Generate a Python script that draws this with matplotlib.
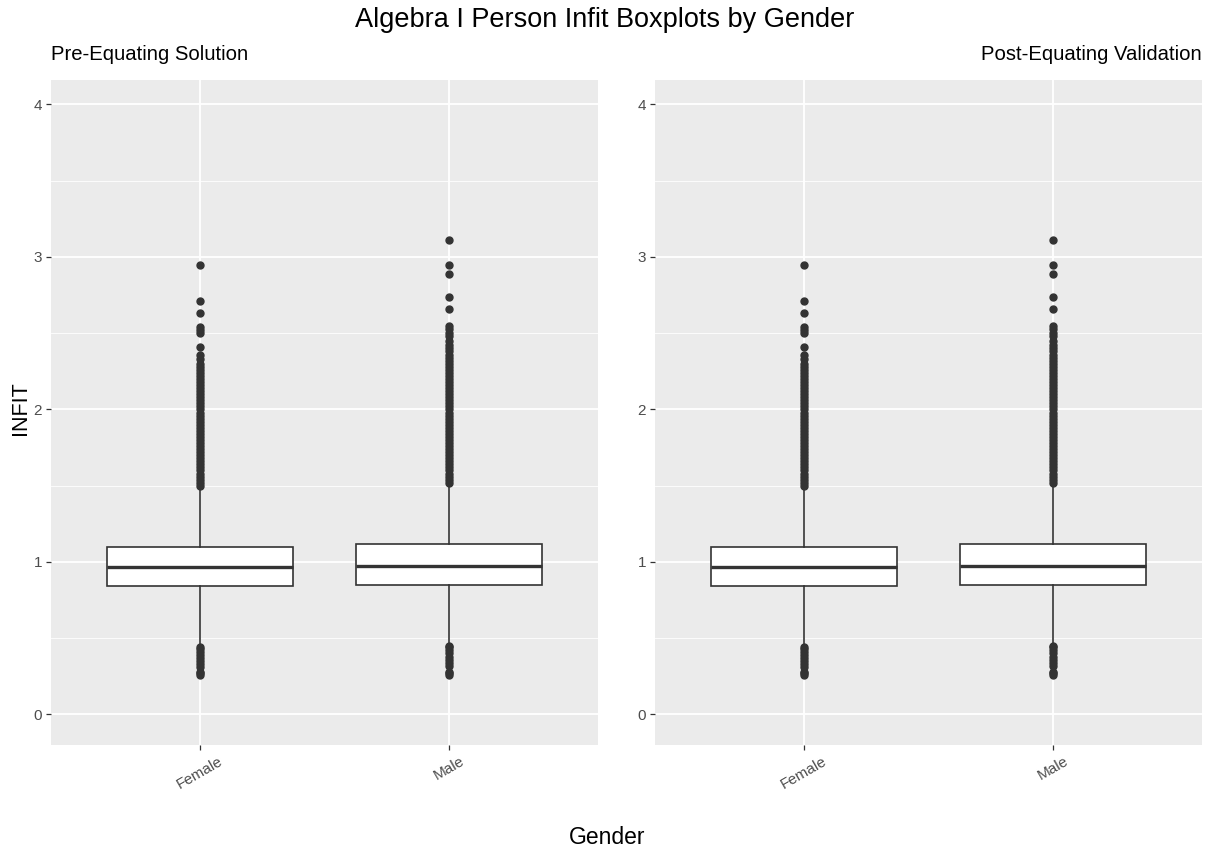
import matplotlib.pyplot as plt

plt.rcParams['font.family'] = ['Liberation Sans', 'DejaVu Sans']

# ----------------------------
# data
# ----------------------------
genders = ["Female", "Male"]
panels = ["Pre-Equating Solution", "Post-Equating Validation"]

q1 = [0.84, 0.85]
median = [0.965, 0.975]
q3 = [1.10, 1.115]
whisker_lo = [0.45, 0.47]
whisker_hi = [1.49, 1.51]

female_out = [0.26, 0.27, 0.28, 0.31, 0.33, 0.35, 0.37, 0.39, 0.41, 0.43, 0.44,
              1.50, 1.52, 1.54, 1.56, 1.58, 1.60, 1.62, 1.64, 1.66, 1.68, 1.70,
              1.72, 1.74, 1.76, 1.78, 1.80, 1.82, 1.84, 1.86, 1.88, 1.90, 1.92,
              1.94, 1.96, 1.98, 2.00, 2.02, 2.04, 2.06, 2.08, 2.10, 2.12, 2.14,
              2.16, 2.18, 2.20, 2.22, 2.24, 2.26, 2.28, 2.30, 2.33, 2.36, 2.41,
              2.50, 2.52, 2.54, 2.63, 2.71, 2.945]
male_out = [0.26, 0.27, 0.28, 0.32, 0.34, 0.36, 0.38, 0.40, 0.42, 0.44, 0.45,
            1.52, 1.54, 1.56, 1.58, 1.60, 1.62, 1.64, 1.66, 1.68, 1.70, 1.72,
            1.74, 1.76, 1.78, 1.80, 1.82, 1.84, 1.86, 1.88, 1.90, 1.92, 1.94,
            1.96, 1.98, 2.00, 2.02, 2.04, 2.06, 2.08, 2.10, 2.12, 2.14, 2.16,
            2.18, 2.20, 2.22, 2.24, 2.26, 2.28, 2.30, 2.32, 2.34, 2.36, 2.38,
            2.40, 2.42, 2.45, 2.48, 2.50, 2.53, 2.55, 2.66, 2.735, 2.89, 2.945, 3.11]
outliers = [female_out, male_out]

y_ticks = [0, 1, 2, 3, 4]

# ----------------------------
# figure
# ----------------------------
W, H = 1211, 852
fig = plt.figure(figsize=(W / 100, H / 100), dpi=100)
fig.patch.set_facecolor("white")

panel_x = [51, 655]
panel_w = 547
panel_top, panel_bot = 80, 745

stats = []
for i in range(len(genders)):
    stats.append({"med": median[i], "q1": q1[i], "q3": q3[i],
                  "whislo": whisker_lo[i], "whishi": whisker_hi[i],
                  "fliers": outliers[i], "label": genders[i]})

for k, name in enumerate(panels):
    ax = fig.add_axes([panel_x[k] / W, 1 - panel_bot / H,
                       panel_w / W, (panel_bot - panel_top) / H])
    ax.set_facecolor("#EBEBEB")
    ax.bxp(stats, positions=[1, 2], widths=0.75, patch_artist=True,
           showcaps=False,
           boxprops=dict(facecolor="white", edgecolor="#333333", linewidth=1.2),
           medianprops=dict(color="#333333", linewidth=2.4),
           whiskerprops=dict(color="#333333", linewidth=1.2),
           flierprops=dict(marker="o", markersize=5.0, markerfacecolor="#333333",
                           markeredgecolor="#333333", linestyle="none"),
           zorder=3)
    ax.set_xlim(0.4, 2.6)
    ax.set_ylim(-0.2, 4.16)
    ax.set_yticks(y_ticks)
    ax.set_yticklabels([str(t) for t in y_ticks])
    ax.set_yticks([0.5, 1.5, 2.5, 3.5], minor=True)
    ax.set_xticks([1, 2])
    ax.set_xticklabels(genders, rotation=30, ha="center", va="top")
    ax.grid(True, which="major", color="white", linewidth=1.3, zorder=0)
    ax.grid(True, which="minor", axis="y", color="white", linewidth=0.6, zorder=0)
    ax.set_axisbelow(True)
    for s in ax.spines.values():
        s.set_visible(False)
    ax.tick_params(which="major", length=3.5, width=0.9, color="#333333",
                   labelcolor="#4D4D4D", labelsize=11, pad=3)
    ax.tick_params(which="minor", length=0)

    if k == 0:
        fig.text(panel_x[k] / W, 1 - 55 / H, name, ha="left", va="center", fontsize=14.6)
    else:
        fig.text((panel_x[k] + panel_w) / W, 1 - 55 / H, name, ha="right",
                 va="center", fontsize=14.6)

fig.text(605 / W, 1 - 20 / H, "Algebra I Person Infit Boxplots by Gender",
         ha="center", va="center", fontsize=19.5)
fig.text(20 / W, 1 - 408 / H, "INFIT", ha="center", va="center",
         rotation=90, fontsize=15.5)
fig.text(607 / W, 1 - 838 / H, "Gender", ha="center", va="center", fontsize=16.5)

fig.savefig("out.png", dpi=100)
